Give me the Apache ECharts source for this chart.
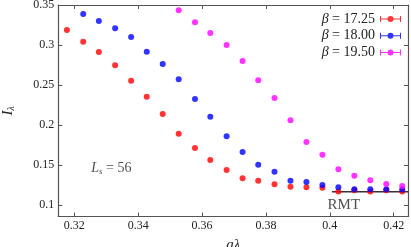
<!DOCTYPE html>
<html><head><meta charset="utf-8">
<script src="https://cdn.jsdelivr.net/npm/echarts@6/dist/echarts.min.js"></script>
<style>html,body{margin:0;padding:0;background:#fff}#c{width:411px;height:247px}</style>
</head><body><div id="c"></div>
<script>
// ---- data ----
const aLambda = [0.3177,0.3228,0.3277,0.3328,0.3378,0.3427,0.3477,0.3527,0.3578,0.3626,0.3677,
                 0.3727,0.3776,0.3827,0.3877,0.3927,0.3977,0.4027,0.4077,0.4127,0.4177,0.4227];
const seriesNames = ['β = 17.25','β = 18.00','β = 19.50'];
const iRed = [0.3188,0.3041,0.2913,0.2746,0.2554,0.2354,0.2138,0.1891,0.1713,0.1563,0.1438,
              0.1334,0.1304,0.1259,0.1229,0.1221,0.1216,0.1170,0.1185,0.1167,0.1185,0.1167];
const blueStart = 1;
const iBlue = [0.3388,0.3300,0.3209,0.3100,0.2916,0.2763,0.2571,0.2325,0.2104,0.1859,0.1663,
               0.1504,0.1416,0.1302,0.1288,0.1250,0.1221,0.1196,0.1196,0.1196,0.1192];
const magentaStart = 7;
const iMagenta = [0.3434,0.3284,0.3150,0.3000,0.2800,0.2559,0.2338,0.2059,0.1788,0.1629,0.1448,
                  0.1366,0.1310,0.1263,0.1236];
const xTickLabels = ['0.32','0.34','0.36','0.38','0.4','0.42'];
const yTickLabels = ['0.1','0.15','0.2','0.25','0.3','0.35'];
const rmtValue = 0.1166;
const rmtFrom = 0.4007;
const rmtLabelAt = [0.4044, 0.0999];
const lsLabelAt = [0.3316, 0.1455];

// ---- chart ----
const FONT = 'Liberation Serif';
const TXT = '#222';
const AX = '#555';
const xMin = 0.315, xMax = 0.4245, yMin = 0.0856, yMax = 0.35;

function fmt(list){
  return function(v){ const s = String(+(+v).toFixed(4)); return list.includes(s) ? s : ''; };
}
const redData = aLambda.map((x,i)=>[x, iRed[i]]);
const blueData = iBlue.map((y,i)=>[aLambda[i+blueStart], y]);
const magData = iMagenta.map((y,i)=>[aLambda[i+magentaStart], y]);

const icon = 'path://M0,0.5h1v2.5h19v-2.5h1v6h-1v-2.5h-19v2.5h-1z M13.5,3.5a3,3 0 1,1 -6,0a3,3 0 1,1 6,0z';

function xAxisBase(pos, labels){
  return {
    type:'value', position:pos, min:xMin, max:xMax, splitNumber:5,
    axisLine:{show:true, lineStyle:{color:AX, width:1.2}},
    axisTick:{show:true, inside:true, length:4, lineStyle:{color:AX, width:1}},
    splitLine:{show:false},
    axisLabel:{show:labels, formatter:fmt(xTickLabels), fontFamily:FONT, fontSize:12, color:TXT, margin:3},
  };
}
function yAxisBase(pos, labels){
  return {
    type:'value', position:pos, min:yMin, max:yMax, splitNumber:5,
    axisLine:{show:true, lineStyle:{color:AX, width:1.2}},
    axisTick:{show:true, inside:true, length:4, lineStyle:{color:AX, width:1}},
    splitLine:{show:false},
    axisLabel:{show:labels, formatter:fmt(yTickLabels), fontFamily:FONT, fontSize:12, color:TXT, margin:4},
  };
}
const xb = xAxisBase('bottom', true);
xb.name = 'aλ'; xb.nameLocation = 'middle'; xb.nameGap = 21;
xb.nameTextStyle = {fontFamily:FONT, fontSize:15, fontStyle:'italic', color:TXT};
const yl = yAxisBase('left', true);
yl.name = '{i|I}{s|λ}'; yl.nameLocation = 'middle'; yl.nameGap = 42; yl.nameRotate = 90;
yl.nameTextStyle = {fontFamily:FONT, fontSize:15, color:TXT, rich:{
  i:{fontFamily:FONT, fontSize:15, fontStyle:'italic', color:TXT},
  s:{fontFamily:FONT, fontSize:10, fontStyle:'italic', color:TXT, padding:[7,0,0,0]}
}};

const chart = echarts.init(document.getElementById('c'), null, {renderer:'canvas'});
chart.setOption({
  animation:false,
  backgroundColor:'#fff',
  grid:{left:58.3, right:3, top:5, bottom:30.5, containLabel:false, outerBoundsMode:'none'},
  xAxis:[xb, xAxisBase('top', false)],
  yAxis:[yl, yAxisBase('right', false)],
  legend:{
    orient:'vertical', right:5, top:7, align:'right',
    itemWidth:21, itemHeight:7, itemGap:2.7, icon:icon,
    data:seriesNames,
    formatter:name => '{i|β}' + name.slice(1),
    textStyle:{fontFamily:FONT, fontSize:14, lineHeight:14, color:TXT,
      rich:{i:{fontFamily:FONT, fontSize:14, fontStyle:'italic', color:TXT}}}
  },
  series:[
    {type:'line', data:[[rmtFrom, rmtValue],[xMax, rmtValue]], symbol:'none', silent:true,
     lineStyle:{color:'#333', width:1.5}, z:1},
    {name:seriesNames[0], type:'scatter', data:redData, symbol:'circle', symbolSize:6,
     itemStyle:{color:'#ff0000'}, z:2},
    {name:seriesNames[1], type:'scatter', data:blueData, symbol:'circle', symbolSize:6,
     itemStyle:{color:'#0000ff'}, z:3},
    {name:seriesNames[2], type:'scatter', data:magData, symbol:'circle', symbolSize:6,
     itemStyle:{color:'#ff00ff'}, z:4},
    {type:'scatter', data:[rmtLabelAt], symbolSize:0, silent:true, z:5,
     label:{show:true, position:'inside', formatter:'RMT', fontFamily:FONT, fontSize:15, color:TXT}},
    {type:'scatter', data:[lsLabelAt], symbolSize:0, silent:true, z:5,
     label:{show:true, position:'inside', formatter:'{i|L}{s|s} = 56', fontFamily:FONT, fontSize:14, color:TXT,
       rich:{i:{fontFamily:FONT, fontSize:14, fontStyle:'italic', color:TXT},
             s:{fontFamily:FONT, fontSize:9, fontStyle:'italic', color:TXT, padding:[6,0,0,0]}}}}
  ]
});
</script></body></html>
